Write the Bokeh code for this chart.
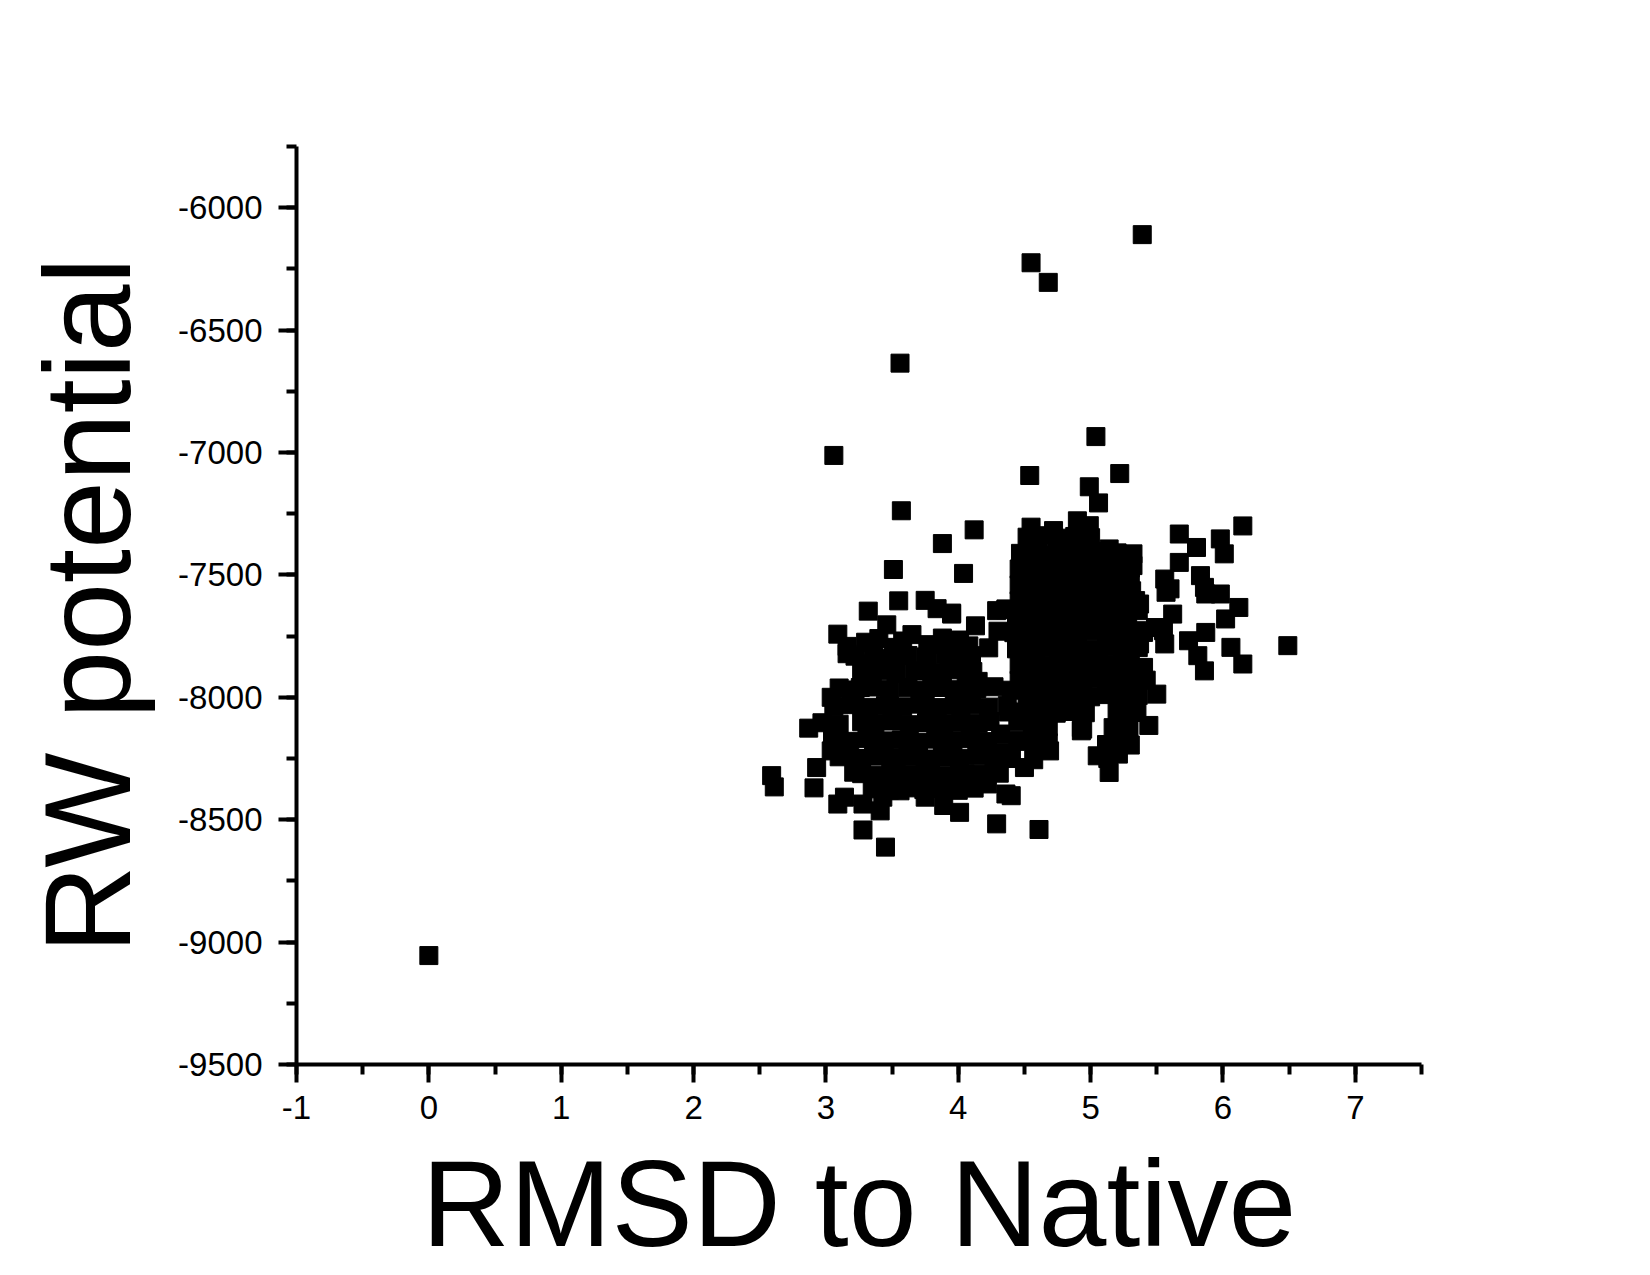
from bokeh.plotting import figure
from bokeh.models import Range1d, SingleIntervalTicker, ColumnDataSource
from bokeh.embed import file_html
from bokeh.resources import INLINE

# ---------------- data ----------------
x_ticks = [-1, 0, 1, 2, 3, 4, 5, 6, 7]
x_tick_labels = ["-1", "0", "1", "2", "3", "4", "5", "6", "7"]
y_ticks = [-9500, -9000, -8500, -8000, -7500, -7000, -6500, -6000]
y_tick_labels = ["-9500", "-9000", "-8500", "-8000", "-7500", "-7000", "-6500", "-6000"]

# isolated and edge points
rmsd_sparse = [
    0.00, 5.39, 4.55, 4.68, 3.56, 3.06, 5.04, 4.54, 5.22, 3.57,
    4.12, 3.88, 4.55, 3.51, 4.04, 3.55, 3.32, 3.75, 3.84, 3.95,
    4.13, 4.29, 4.36, 4.50, 3.09, 3.16, 3.46, 3.65, 3.88, 4.01,
    4.23, 4.44, 4.55, 3.51, 3.16, 3.29, 3.04, 3.26, 2.87, 3.08,
    3.04, 2.93, 2.59, 2.61, 2.91, 3.21, 3.14, 3.09, 3.28, 3.41,
    3.28, 3.45, 3.43, 3.75, 3.89, 4.01, 4.22, 4.40, 4.36, 4.29,
    4.61, 4.50, 3.71, 3.56, 4.16, 3.95, 4.93, 5.05, 4.99, 5.06,
    4.72, 4.90, 4.99, 4.56, 4.75, 4.93, 5.14, 5.32, 5.32, 5.67,
    5.80, 5.98, 6.15, 6.01, 5.67, 5.56, 5.60, 5.83, 5.86, 5.98,
    6.12, 6.02, 5.62, 5.74, 5.87, 5.81, 5.86, 6.06, 6.15, 6.49,
    5.56, 5.50, 5.44, 5.49, 5.34, 5.27, 5.36, 5.37, 5.40, 5.31,
    5.31, 5.27, 5.37, 5.35, 5.55, 5.14, 5.21, 5.27, 4.93, 4.69,
    5.35, 4.94, 4.36, 5.57, 5.87, 3.30, 3.40, 3.58, 3.77, 3.95,
    4.08, 4.45, 4.40, 4.47, 4.35, 4.32, 4.38, 4.47, 4.15,
]
rw_sparse = [
    -9055, -6110, -6225, -6305, -6635, -7012, -6935, -7094, -7086, -7238,
    -7316, -7372, -7305, -7478, -7494, -7606, -7648, -7604, -7638, -7656,
    -7708, -7646, -7642, -7618, -7742, -7792, -7704, -7744, -7758, -7766,
    -7798, -7802, -7720, -7796, -7822, -7864, -8000, -7960, -8126, -8164,
    -8219, -8287, -8320, -8366, -8370, -8306, -8408, -8436, -8436, -8464,
    -8542, -8612, -8408, -8408, -8442, -8470, -8354, -8402, -8395, -8517,
    -8540, -8287, -8348, -8382, -8314, -7660, -8123, -8239, -7140, -7206,
    -7319, -7279, -7299, -7388, -7388, -7388, -7394, -7414, -7462, -7333,
    -7388, -7353, -7300, -7414, -7449, -7517, -7557, -7503, -7551, -7578,
    -7633, -7680, -7660, -7769, -7735, -7830, -7892, -7796, -7864, -7789,
    -7782, -7987, -8115, -7715, -7605, -7701, -7646, -7782, -7878, -7565,
    -7435, -7551, -7619, -7728, -7728, -8307, -8232, -8177, -8137, -8219,
    -8041, -8130, -7639, -7571, -7578, -7775, -7760, -7770, -7785, -7780,
    -7790, -8100, -8250, -8180, -8225, -8150, -8060, -7835, -7935,
]

# dense lower-left cloud (RMSD about 3 to 4.4)
rmsd_left = [
    3.22, 3.36, 3.49, 3.62, 3.76, 3.90, 4.03, 4.10,
    3.27, 3.40, 3.53, 3.67, 3.80, 3.93, 4.06, 4.11,
    3.10, 3.22, 3.35, 3.48, 3.62, 3.75, 3.88, 4.01, 4.14, 4.27, 4.40,
    3.06, 3.19, 3.32, 3.45, 3.58, 3.71, 3.84, 3.97, 4.10, 4.23, 4.37,
    2.97, 3.10, 3.27, 3.37, 3.50, 3.63, 3.76, 3.89, 4.02, 4.15, 4.24,
    3.05, 3.18, 3.31, 3.44, 3.57, 3.70, 3.83, 3.96, 4.09, 4.22, 4.45,
    3.10, 3.23, 3.36, 3.49, 3.62, 3.75, 3.88, 4.01, 4.14, 4.27, 4.40,
    3.27, 3.40, 3.53, 3.66, 3.79, 3.92, 4.05, 4.18, 4.31,
    3.35, 3.48, 3.61, 3.74, 3.87, 4.00, 4.12,
]
rw_left = [
    -7832, -7826, -7840, -7829, -7835, -7824, -7838, -7830,
    -7897, -7890, -7902, -7893, -7899, -7888, -7904, -7895,
    -7962, -7970, -7958, -7967, -7961, -7972, -7960, -7969, -7964, -7957, -7971,
    -8037, -8030, -8041, -8033, -8039, -8028, -8042, -8035, -8031, -8040, -8034,
    -8104, -8110, -8100, -8108, -8097, -8112, -8103, -8109, -8101, -8106, -8099,
    -8172, -8180, -8169, -8178, -8174, -8183, -8171, -8177, -8168, -8181, -8176,
    -8243, -8250, -8240, -8248, -8241, -8252, -8244, -8249, -8239, -8247, -8242,
    -8312, -8318, -8309, -8316, -8311, -8320, -8313, -8317, -8310,
    -8374, -8379, -8370, -8377, -8372, -8380, -8371,
]

# dense upper-right cloud (RMSD about 4.4 to 5.4)
rmsd_right = [
    4.52, 4.64, 4.80, 4.88, 5.00,
    4.47, 4.60, 4.72, 4.84, 4.96, 5.08, 5.20,
    4.46, 4.58, 4.70, 4.82, 4.94, 5.06, 5.18, 5.30,
    4.46, 4.58, 4.70, 4.82, 4.94, 5.06, 5.18, 5.30,
    4.46, 4.58, 4.70, 4.82, 4.94, 5.06, 5.18, 5.30,
    4.44, 4.56, 4.68, 4.80, 4.92, 5.04, 5.16, 5.28,
    4.30, 4.42, 4.54, 4.66, 4.78, 4.90, 5.02, 5.14, 5.26, 5.40,
    4.52, 4.64, 4.76, 4.88, 5.00, 5.12, 5.24, 5.36,
    4.46, 4.58, 4.70, 4.82, 4.94, 5.06, 5.18, 5.30,
    4.46, 4.58, 4.70, 4.82, 4.94, 5.06, 5.18, 5.30, 5.42,
    4.52, 4.64, 4.76, 4.88, 5.00, 5.12, 5.24, 5.36,
    4.50, 4.62, 4.74, 4.86, 4.96, 5.20, 5.32,
    4.56, 4.68, 5.17, 5.29,
    4.58, 4.68, 5.12, 5.24, 5.30,
    4.57, 5.13,
]
rw_right = [
    -7346, -7340, -7350, -7343, -7348,
    -7412, -7405, -7415, -7408, -7413, -7404, -7410,
    -7476, -7470, -7480, -7473, -7478, -7469, -7477, -7472,
    -7541, -7535, -7545, -7538, -7543, -7534, -7542, -7537,
    -7606, -7600, -7610, -7603, -7608, -7599, -7607, -7602,
    -7671, -7665, -7675, -7668, -7673, -7664, -7672, -7667,
    -7730, -7736, -7730, -7740, -7733, -7738, -7729, -7737, -7732, -7735,
    -7801, -7795, -7805, -7798, -7803, -7794, -7802, -7797,
    -7866, -7860, -7870, -7863, -7868, -7859, -7867, -7862,
    -7931, -7925, -7935, -7928, -7933, -7924, -7932, -7927, -7930,
    -7996, -7990, -8000, -7993, -7998, -7989, -7997, -7992,
    -8061, -8055, -8065, -8058, -8063, -8059, -8062,
    -8126, -8120, -8124, -8128,
    -8190, -8186, -8193, -8188, -8195,
    -8255, -8250,
]

rmsd = rmsd_sparse + rmsd_left + rmsd_right
rw = rw_sparse + rw_left + rw_right

# ---------------- figure ----------------
FONT = "Liberation Sans"

p = figure(
    width=1650, height=1275,
    x_range=Range1d(-1, 7.5), y_range=Range1d(-9500, -5750),
    output_backend="svg", toolbar_location=None,
    min_border_left=296, min_border_right=229,
    min_border_top=146, min_border_bottom=211,
    x_axis_label="RMSD to Native", y_axis_label="RW potential",
)
p.outline_line_color = None
p.grid.visible = False
p.background_fill_color = "white"
p.border_fill_color = "white"

src = ColumnDataSource(data=dict(x=rmsd, y=rw))
p.scatter("x", "y", source=src, marker="square", size=18,
          fill_color="black", line_color="black", line_width=1)

p.xaxis.ticker = SingleIntervalTicker(interval=1, num_minor_ticks=2)
p.yaxis.ticker = SingleIntervalTicker(interval=500, num_minor_ticks=2)
p.xaxis.major_label_overrides = {t: s for t, s in zip(x_ticks, x_tick_labels)}
p.yaxis.major_label_overrides = {t: s for t, s in zip(y_ticks, y_tick_labels)}

for ax in (p.xaxis[0], p.yaxis[0]):
    ax.axis_line_width = 4
    ax.axis_line_color = "black"
    ax.major_tick_line_width = 4
    ax.minor_tick_line_width = 4
    ax.major_tick_line_color = "black"
    ax.minor_tick_line_color = "black"
    ax.major_tick_in = 0
    ax.major_tick_out = 18
    ax.minor_tick_in = 0
    ax.minor_tick_out = 10
    ax.major_label_text_font = FONT
    ax.major_label_text_font_size = "33px"
    ax.major_label_text_color = "black"
    ax.axis_label_text_font = FONT
    ax.axis_label_text_font_size = "122px"
    ax.axis_label_text_font_style = "normal"
    ax.axis_label_text_color = "black"

p.xaxis.major_label_standoff = 13
p.yaxis.major_label_standoff = 16
p.xaxis.axis_label_standoff = 14
p.yaxis.axis_label_standoff = 19

open("out.html", "w").write(file_html(p, INLINE))
